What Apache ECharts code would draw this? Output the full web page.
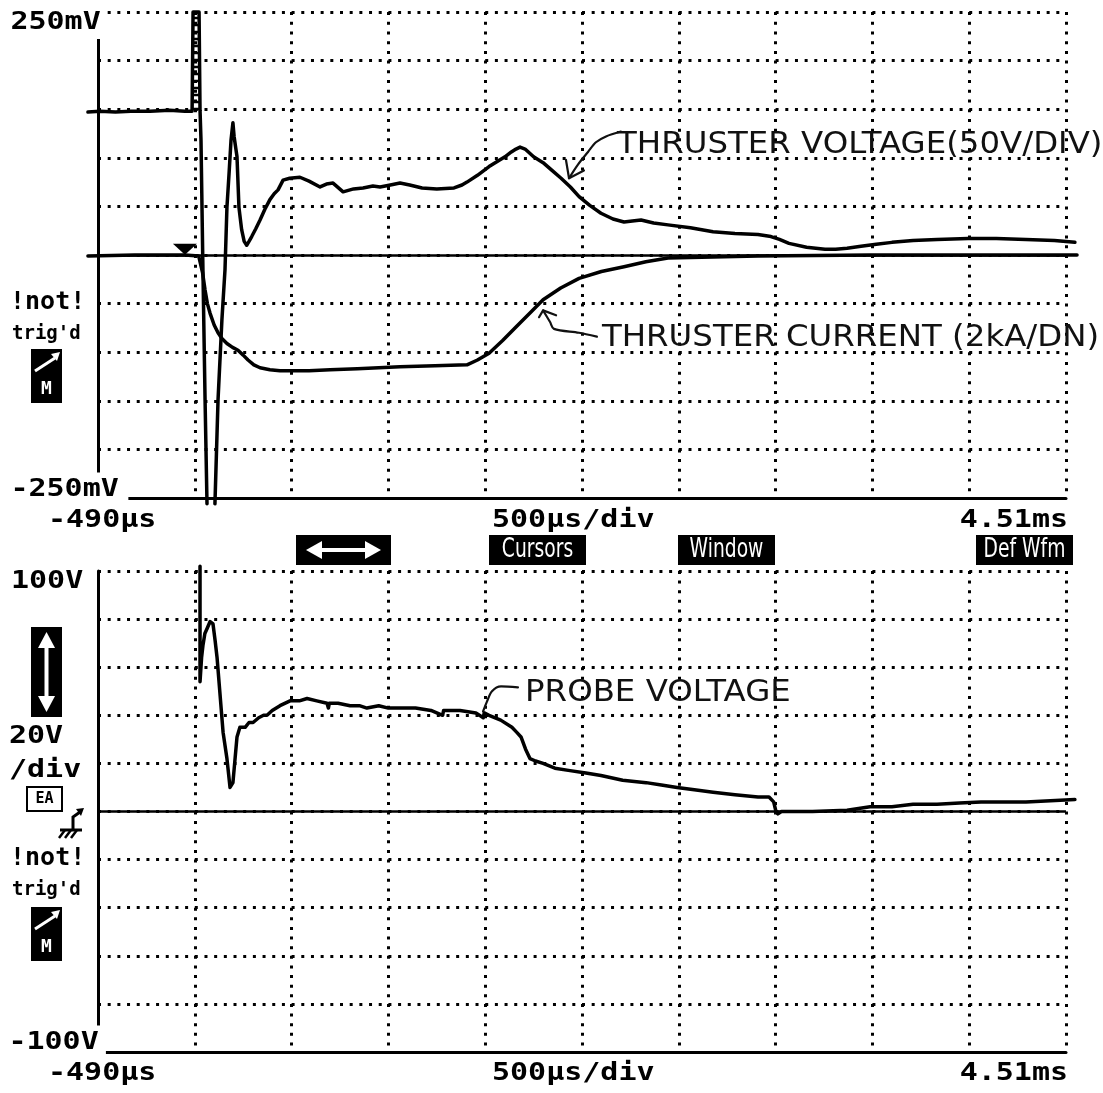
<!DOCTYPE html>
<html>
<head>
<meta charset="utf-8">
<script src="https://cdn.jsdelivr.net/npm/echarts@6/dist/echarts.min.js"></script>
<style>
  html, body { margin: 0; padding: 0; background: #fff; }
  #chart { width: 1103px; height: 1093px; }
</style>
</head>
<body>
<div id="chart"></div>
<script>
// Time base: microseconds, screen spans -490 µs .. 4.51 ms (500 µs/div);
// the acquisition record runs a little past both screen edges
const timeRange = [-490, 4510];
const recordRange = [-542, 4567];
const topRange = [-250, 250];      // mV, 50 mV/div
const bottomRange = [-100, 100];   // V, 20 V/div

// Upper screen, channel 1: thruster voltage [µs, mV]; '-' marks the off-screen gap
const thrusterVoltage = [
  [-542,147],[-480,148],[-400,147],[-320,148],[-221,148],[-120,149],[-41,148],[-4,148],
  [1,250],[32,250],[37,149],[42,118],[52,-15],[63,-149],[73,-256],
  [93,'-'],
  [114,-256],[130,-149],[150,-67],[166,-15],[176,49],[187,84],[197,118],[207,136],
  [213,122],[223,108],[228,101],[238,49],[252,26],[265,14],[278,10],[290,14],[304,19],
  [325,27],[347,36],[372,47],[398,57],[420,63],[440,67],[466,77],[500,79],[553,80],
  [600,76],[657,70],[690,73],[724,74],[776,65],[830,68],[879,69],[930,71],[967,70],
  [1020,72],[1070,74],[1120,72],[1184,69],[1260,68],[1349,69],[1390,72],[1416,75],
  [1470,82],[1530,91],[1570,96],[1612,101],[1645,106],[1669,109],[1690,111],[1716,109],
  [1760,101],[1809,95],[1855,87],[1902,79],[1950,70],[1995,60],[2050,51],[2108,43],
  [2170,37],[2227,34],[2270,35],[2315,36],[2380,33],[2454,31],[2570,28],[2687,24],
  [2800,22],[2919,21],[2986,19],[3030,16],[3079,12],[3170,8],[3265,6],[3320,6],
  [3379,7],[3451,9],[3530,11],[3611,13],[3720,15],[3844,16],[4004,17],[4150,17],
  [4303,16],[4450,15],[4556,13]
];

// Upper screen, channel 2: thruster current [µs, mV]
const thrusterCurrent = [
  [-542,-1],[-300,0],[-41,0],[30,-1],[37,-2],[50,-18],[63,-36],[75,-50],[89,-60],
  [110,-72],[130,-80],[150,-86],[176,-91],[205,-95],[233,-98],[260,-103],[285,-108],
  [315,-113],[347,-116],[398,-118],[450,-119],[502,-119],[600,-119],[709,-118],
  [850,-117],[1070,-115],[1250,-114],[1416,-113],[1470,-108],[1530,-101],[1600,-88],
  [1669,-74],[1740,-60],[1809,-46],[1900,-34],[1995,-24],[2110,-17],[2227,-12],
  [2340,-7],[2454,-3],[2687,-2],[2919,-1],[3500,0],[4567,0]
];

// Lower screen: probe voltage [µs, V]
const probeVoltage = [
  [37,102],[37,54],[45,64],[52,69],[62,74],[73,76],[89,79],[104,78],[115,71],[125,64],
  [140,49],[156,33],[176,22],[192,10],[207,12],[218,22],[228,31],[243,35],[270,35],
  [290,37],[311,37],[340,39],[365,40],[383,40],[410,42],[450,44],[502,46],[550,46],
  [590,47],[640,46],[693,45],[700,43],[705,45],[750,45],[812,44],[860,44],[899,43],
  [960,44],[1010,43],[1070,43],[1150,43],[1230,42],[1290,40],[1295,42],[1380,42],
  [1462,41],[1500,39],[1505,41],[1530,40],[1590,38],[1648,35],[1672,33],[1695,31],
  [1718,26],[1741,22],[1770,21],[1809,20],[1870,18],[1948,17],[2030,16],[2108,15],
  [2220,13],[2341,12],[2420,11],[2501,10],[2590,9],[2687,8],[2800,7],[2919,6],
  [2976,6],[3000,4],[3012,0],[3022,-1],[3040,0],[3079,0],[3200,0],[3379,0.5],
  [3498,2],[3611,2],[3720,3],[3844,3],[3960,3.5],[4071,4],[4190,4],[4303,4],
  [4430,4.5],[4556,5]
];

// Screen readouts
const topScaleLabels = ['250mV', '-250mV'];
const bottomScaleLabels = ['100V', '-100V'];
const timeLabels = ['-490µs', '500µs/div', '4.51ms'];
const menuLabels = ['Cursors', 'Window', 'Def Wfm'];

// Hand-written notes, anchored in data units
const voltageNote = { text: 'THRUSTER VOLTAGE(50V/DIV)', at: [2191, 113] };
const currentNote = { text: 'THRUSTER CURRENT (2kA/DN)', at: [2113, -86] };
const probeNote = { text: 'PROBE VOLTAGE', at: [1716, 49] };
const voltageArrow = [[2211,127],[2134,122],[2082,116],[2041,106],[1989,93],[1943,79]];
const voltageArrowHead = [[1927,98],[1943,79],[2020,87]];
const currentArrow = [[2087,-84],[1994,-80],[1865,-76],[1845,-69],[1809,-57]];
const currentArrowHead = [[1788,-64],[1809,-57],[1876,-62]];
const probeArrow = [[1679,51.6],[1592,52],[1545,50],[1519,45.7],[1499,41.6]];

const chart = echarts.init(document.getElementById('chart'), null, { renderer: 'canvas' });

const INK = '#000';
const dot = (gap) => [3, gap];

// Screen frames (graticule) and record areas share the same vertical extent
const PX_PER_US = 968 / (timeRange[1] - timeRange[0]);
const recLeft = 98 - (timeRange[0] - recordRange[0]) * PX_PER_US;
const recWidth = (recordRange[1] - recordRange[0]) * PX_PER_US;

function frameX(gridIndex, dash) {
  return {
    gridIndex, type: 'value', min: 0, max: 10, interval: 1, position: 'bottom',
    axisLine: { show: true, onZero: false, lineStyle: { color: INK, width: 3 } },
    axisTick: { show: false }, axisLabel: { show: false },
    splitLine: { show: true, lineStyle: { color: INK, width: 3, type: dash } }
  };
}
function frameY(gridIndex, range, step, dash) {
  return {
    gridIndex, type: 'value', min: range[0], max: range[1], interval: step,
    axisLine: { show: true, onZero: false, lineStyle: { color: INK, width: 3 } },
    axisTick: { show: false }, axisLabel: { show: false },
    splitLine: { show: true, lineStyle: { color: INK, width: 3, type: dash } }
  };
}
function recordX(gridIndex) {
  return { gridIndex, type: 'value', min: recordRange[0], max: recordRange[1], show: false };
}
function recordY(gridIndex, range) {
  return { gridIndex, type: 'value', min: range[0], max: range[1], show: false };
}
function trace(data, xi, yi, width, extra) {
  return Object.assign({
    type: 'line', data, xAxisIndex: xi, yAxisIndex: yi, showSymbol: false,
    clip: false, silent: true, z: 5, connectNulls: false,
    lineStyle: { color: INK, width, join: 'round', cap: 'round' }
  }, extra || {});
}
const zeroRef = {
  silent: true, symbol: ['none', 'none'], label: { show: false },
  lineStyle: { color: INK, width: 2.5, type: 'solid' },
  data: [[{ coord: [timeRange[0], 0] }, { coord: [timeRange[1], 0] }]]
};
const penStyle = { color: '#111', width: 2.2, join: 'round', cap: 'round' };

chart.setOption({
  animation: false,
  backgroundColor: '#fff',
  grid: [
    { left: 98, top: 12, width: 968, height: 486 },
    { left: recLeft, top: 12, width: recWidth, height: 486 },
    { left: 98, top: 571, width: 968, height: 481 },
    { left: recLeft, top: 571, width: recWidth, height: 481 }
  ],
  xAxis: [frameX(0, dot(6.72)), recordX(1), frameX(2, dot(6.62)), recordX(3)],
  yAxis: [frameY(0, topRange, 50, dot(6.68)), recordY(1, topRange),
          frameY(2, bottomRange, 20, dot(6.68)), recordY(3, bottomRange)],
  series: [
    trace(thrusterVoltage, 1, 1, 3.5, {
      markLine: {
        silent: true, symbol: ['none', 'none'], label: { show: false },
        data: [[{ coord: [17, 149], lineStyle: { color: INK, width: 6, type: [2.5, 4.5] } },
                { coord: [17, 250] }]]
      }
    }),
    trace(thrusterCurrent, 1, 1, 3.5, {
      markLine: zeroRef,
      markPoint: {
        silent: true, symbol: 'triangle', symbolRotate: 180, symbolSize: [24, 11],
        itemStyle: { color: INK }, label: { show: false },
        data: [{ coord: [-41, 6] }]
      }
    }),
    trace(probeVoltage, 3, 3, 3.5, { markLine: zeroRef }),
    trace(voltageArrow, 1, 1, 2, { smooth: 0.3, lineStyle: penStyle }),
    trace(voltageArrowHead, 1, 1, 2, { lineStyle: penStyle }),
    trace(currentArrow, 1, 1, 2, { smooth: 0.3, lineStyle: penStyle }),
    trace(currentArrowHead, 1, 1, 2, { lineStyle: penStyle }),
    trace(probeArrow, 3, 3, 2, { smooth: 0.3, lineStyle: penStyle })
  ]
});

// ---- screen text and soft-key graphics ----
const MONO = '"DejaVu Sans Mono", "Liberation Mono", monospace';
function scopeText(text, x, y, opts) {
  const o = opts || {};
  return {
    type: 'text', x, y, z: 100, scaleX: o.sx == null ? 1.2 : o.sx,
    style: {
      text, x: 0, y: 0, fill: o.fill || INK,
      font: (o.weight || 'bold') + ' ' + (o.size || 25) + 'px ' + (o.family || MONO),
      textAlign: o.align || 'left', textVerticalAlign: 'middle',
      backgroundColor: o.bg || 'transparent', padding: o.pad || 0
    }
  };
}
function blackBox(x, y, w, h) {
  return { type: 'rect', z: 100, shape: { x, y, width: w, height: h }, style: { fill: INK } };
}
function whiteLine(points, w) {
  return { type: 'polyline', z: 101, shape: { points }, style: { stroke: '#fff', lineWidth: w || 3, fill: null } };
}
function whiteTri(points) {
  return { type: 'polygon', z: 101, shape: { points }, style: { fill: '#fff' } };
}
function inkLine(points, w) {
  return { type: 'polyline', z: 101, shape: { points }, style: { stroke: INK, lineWidth: w || 2.5, fill: null } };
}
function trigIcon(y0) {
  return [
    blackBox(31, y0, 31, 54),
    whiteLine([[35, y0 + 22], [55, y0 + 9]], 3),
    whiteTri([[51, y0 + 5], [60, y0 + 3], [57, y0 + 12]]),
    scopeText('M', 46.5, y0 + 40, { size: 18, fill: '#fff', sx: 1, align: 'center' })
  ];
}
function notTrig(y0) {
  return [
    scopeText('!not!', 10, y0, { size: 25, sx: 1 }),
    scopeText("trig'd", 12, y0 + 32, { size: 20, sx: 0.95 })
  ];
}

const statics = [
  // upper screen readouts
  scopeText(topScaleLabels[0], 8, 22, { bg: '#fff', pad: [3, 4, 6, 2] }),
  scopeText(topScaleLabels[1], 8, 489, { bg: '#fff', pad: [4, 8, 4, 2] }),
  scopeText(timeLabels[0], 48, 520),
  scopeText(timeLabels[1], 492, 520),
  scopeText(timeLabels[2], 1068, 520, { align: 'right' }),
  ...notTrig(302),
  ...trigIcon(349),
  // soft-key bar
  blackBox(296, 535, 95, 30),
  whiteLine([[314, 550], [373, 550]], 4),
  whiteTri([[306, 550], [322, 541], [322, 559]]),
  whiteTri([[381, 550], [365, 541], [365, 559]]),
  blackBox(489, 535, 97, 30),
  blackBox(678, 535, 97, 30),
  blackBox(976, 535, 97, 30),
  scopeText(menuLabels[0], 537.5, 550, { family: '"DejaVu Sans", sans-serif', weight: 'normal', size: 26, sx: 0.72, fill: '#fff', align: 'center' }),
  scopeText(menuLabels[1], 726.5, 550, { family: '"DejaVu Sans", sans-serif', weight: 'normal', size: 26, sx: 0.72, fill: '#fff', align: 'center' }),
  scopeText(menuLabels[2], 1024.5, 550, { family: '"DejaVu Sans", sans-serif', weight: 'normal', size: 26, sx: 0.72, fill: '#fff', align: 'center' }),
  // lower screen readouts
  scopeText(bottomScaleLabels[0], 11, 581),
  blackBox(31, 627, 31, 90),
  whiteLine([[46.5, 642], [46.5, 702]], 4),
  whiteTri([[46.5, 632], [38, 648], [55, 648]]),
  whiteTri([[46.5, 712], [38, 696], [55, 696]]),
  scopeText('20V', 9, 736),
  scopeText('/div', 9, 770),
  { type: 'rect', z: 100, shape: { x: 27, y: 787, width: 35, height: 24 }, style: { fill: '#fff', stroke: INK, lineWidth: 2 } },
  scopeText('EA', 44.5, 799.5, { size: 15, sx: 1, align: 'center' }),
  inkLine([[73, 830], [73, 817], [80, 812]], 3),
  { type: 'polygon', z: 101, shape: { points: [[84, 808], [76, 809], [81, 816]] }, style: { fill: INK } },
  inkLine([[60, 830], [82, 830]], 3),
  inkLine([[65, 830], [59, 838]], 2.5),
  inkLine([[71, 830], [65, 838]], 2.5),
  inkLine([[77, 830], [71, 838]], 2.5),
  ...notTrig(858),
  ...trigIcon(907),
  scopeText(bottomScaleLabels[1], 6, 1042, { bg: '#fff', pad: [4, 6, 4, 2] }),
  scopeText(timeLabels[0], 48, 1073),
  scopeText(timeLabels[1], 492, 1073),
  scopeText(timeLabels[2], 1068, 1073, { align: 'right' })
];

// hand-written notes positioned through the axes
const HAND = '"DejaVu Sans", sans-serif';
function note(n, xi, yi) {
  const p = chart.convertToPixel({ xAxisIndex: xi, yAxisIndex: yi }, n.at);
  return scopeText(n.text, p[0], p[1], { family: HAND, weight: 'normal', size: 30, sx: 1.08, fill: '#111' });
}
const notes = [
  note(voltageNote, 1, 1),
  note(currentNote, 1, 1),
  note(probeNote, 3, 3)
];

chart.setOption({ graphic: { elements: statics.concat(notes) } });
</script>
</body>
</html>
